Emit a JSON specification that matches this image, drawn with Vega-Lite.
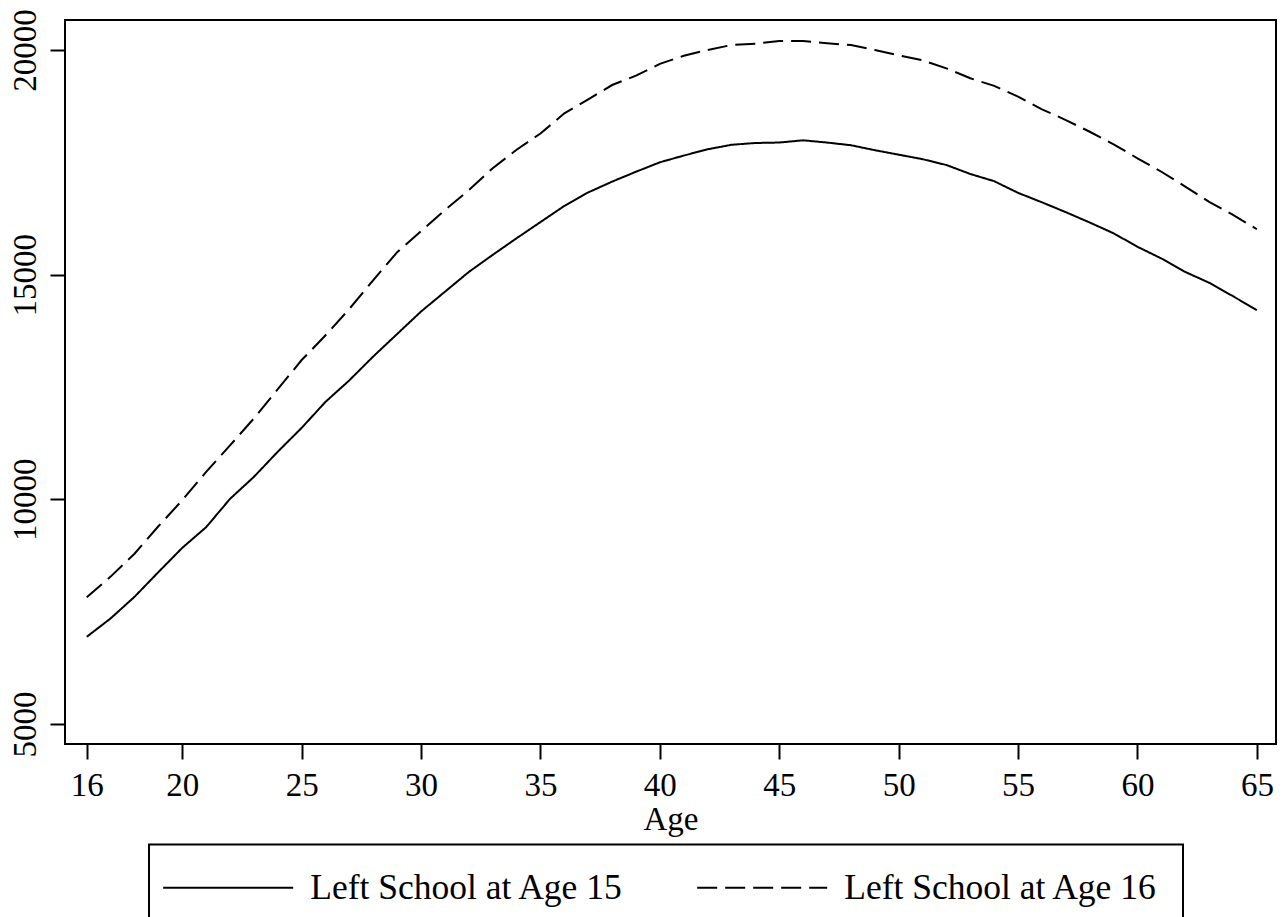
{
  "$schema": "https://vega.github.io/schema/vega-lite/v6.json",
  "width": 1211,
  "height": 724,
  "autosize": {"type": "none"},
  "padding": {"left": 65, "top": 20, "right": 8, "bottom": 173},
  "background": "white",
  "config": {
    "view": {"stroke": "black", "strokeWidth": 2},
    "font": "Liberation Serif",
    "legend": {"strokeColor": "black", "strokeWidth": 2}
  },
  "datasets": {
    "s15": [
      {"age":16,"earnings":6940},{"age":17,"earnings":7350},{"age":18,"earnings":7830},{"age":19,"earnings":8380},{"age":20,"earnings":8920},
      {"age":21,"earnings":9380},{"age":22,"earnings":10010},{"age":23,"earnings":10500},{"age":24,"earnings":11060},{"age":25,"earnings":11590},
      {"age":26,"earnings":12170},{"age":27,"earnings":12650},{"age":28,"earnings":13180},{"age":29,"earnings":13680},{"age":30,"earnings":14180},
      {"age":31,"earnings":14620},{"age":32,"earnings":15060},{"age":33,"earnings":15440},{"age":34,"earnings":15810},{"age":35,"earnings":16170},
      {"age":36,"earnings":16530},{"age":37,"earnings":16830},{"age":38,"earnings":17070},{"age":39,"earnings":17290},{"age":40,"earnings":17500},
      {"age":41,"earnings":17650},{"age":42,"earnings":17790},{"age":43,"earnings":17890},{"age":44,"earnings":17930},{"age":45,"earnings":17940},
      {"age":46,"earnings":17990},{"age":47,"earnings":17940},{"age":48,"earnings":17880},{"age":49,"earnings":17770},{"age":50,"earnings":17670},
      {"age":51,"earnings":17570},{"age":52,"earnings":17440},{"age":53,"earnings":17240},{"age":54,"earnings":17080},{"age":55,"earnings":16820},
      {"age":56,"earnings":16610},{"age":57,"earnings":16390},{"age":58,"earnings":16160},{"age":59,"earnings":15920},{"age":60,"earnings":15620},
      {"age":61,"earnings":15360},{"age":62,"earnings":15060},{"age":63,"earnings":14820},{"age":64,"earnings":14520},{"age":65,"earnings":14210}
    ],
    "s16": [
      {"age":16,"earnings":7820},{"age":17,"earnings":8280},{"age":18,"earnings":8790},{"age":19,"earnings":9400},{"age":20,"earnings":9980},
      {"age":21,"earnings":10610},{"age":22,"earnings":11200},{"age":23,"earnings":11800},{"age":24,"earnings":12450},{"age":25,"earnings":13100},
      {"age":26,"earnings":13650},{"age":27,"earnings":14240},{"age":28,"earnings":14880},{"age":29,"earnings":15500},{"age":30,"earnings":15970},
      {"age":31,"earnings":16440},{"age":32,"earnings":16880},{"age":33,"earnings":17370},{"age":34,"earnings":17780},{"age":35,"earnings":18140},
      {"age":36,"earnings":18590},{"age":37,"earnings":18900},{"age":38,"earnings":19220},{"age":39,"earnings":19430},{"age":40,"earnings":19690},
      {"age":41,"earnings":19870},{"age":42,"earnings":20000},{"age":43,"earnings":20110},{"age":44,"earnings":20140},{"age":45,"earnings":20200},
      {"age":46,"earnings":20200},{"age":47,"earnings":20150},{"age":48,"earnings":20110},{"age":49,"earnings":20000},{"age":50,"earnings":19880},
      {"age":51,"earnings":19770},{"age":52,"earnings":19590},{"age":53,"earnings":19370},{"age":54,"earnings":19200},{"age":55,"earnings":18960},
      {"age":56,"earnings":18680},{"age":57,"earnings":18440},{"age":58,"earnings":18180},{"age":59,"earnings":17900},{"age":60,"earnings":17590},
      {"age":61,"earnings":17290},{"age":62,"earnings":16960},{"age":63,"earnings":16620},{"age":64,"earnings":16330},{"age":65,"earnings":16010}
    ]
  },
  "layer": [
    {
      "data": {"name": "s15"},
      "transform": [{"calculate": "'Left School at Age 15'", "as": "group"}],
      "mark": {"type": "line", "color": "black", "strokeWidth": 2},
      "encoding": {
        "x": {"field": "age", "type": "quantitative"},
        "y": {"field": "earnings", "type": "quantitative"},
        "strokeDash": {"field": "group", "type": "nominal"}
      }
    },
    {
      "data": {"name": "s16"},
      "transform": [{"calculate": "'Left School at Age 16'", "as": "group"}],
      "mark": {"type": "line", "color": "black", "strokeWidth": 2},
      "encoding": {
        "x": {"field": "age", "type": "quantitative"},
        "y": {"field": "earnings", "type": "quantitative"},
        "strokeDash": {"field": "group", "type": "nominal"}
      }
    }
  ],
  "encoding": {
    "x": {
      "field": "age", "type": "quantitative",
      "scale": {"domain": [15.09, 65.8], "nice": false, "zero": false},
      "axis": {
        "values": [16, 20, 25, 30, 35, 40, 45, 50, 55, 60, 65],
        "title": "Age", "grid": false, "domain": false,
        "tickColor": "black", "tickWidth": 2, "tickSize": 15,
        "labelFont": "Liberation Serif", "labelFontSize": 33, "labelColor": "black", "labelPadding": 10,
        "labelFlush": false, "labelOverlap": false,
        "titleFont": "Liberation Serif", "titleFontSize": 33, "titleFontWeight": "normal", "titleColor": "black", "titlePadding": 1
      }
    },
    "y": {
      "field": "earnings", "type": "quantitative",
      "scale": {"domain": [4555, 20667], "nice": false, "zero": false},
      "axis": {
        "values": [5000, 10000, 15000, 20000], "format": "d",
        "title": null, "grid": false, "domain": false,
        "tickColor": "black", "tickWidth": 2, "tickSize": 15,
        "labelFont": "Liberation Serif", "labelFontSize": 33, "labelColor": "black", "labelPadding": 15,
        "labelAngle": -90, "labelAlign": "center", "labelBaseline": "alphabetic",
        "labelFlush": false, "labelOverlap": false
      }
    },
    "strokeDash": {
      "field": "group", "type": "nominal",
      "scale": {"domain": ["Left School at Age 15", "Left School at Age 16"], "range": [[1, 0], [20, 8]]},
      "legend": {
        "title": null, "orient": "none", "legendX": 84, "legendY": 824.5,
        "direction": "horizontal", "columns": 2,
        "strokeColor": "black", "padding": 25,
        "symbolType": "M-6.5,0H6.5", "symbolSize": 400, "symbolOffset": 36.4,
        "symbolStrokeColor": "black", "symbolStrokeWidth": 2, "symbolFillColor": "transparent",
        "labelFont": "Liberation Serif", "labelFontSize": 35.5, "labelColor": "black",
        "labelOffset": 64.3, "labelLimit": 600, "columnPadding": 69
      }
    }
  }
}
